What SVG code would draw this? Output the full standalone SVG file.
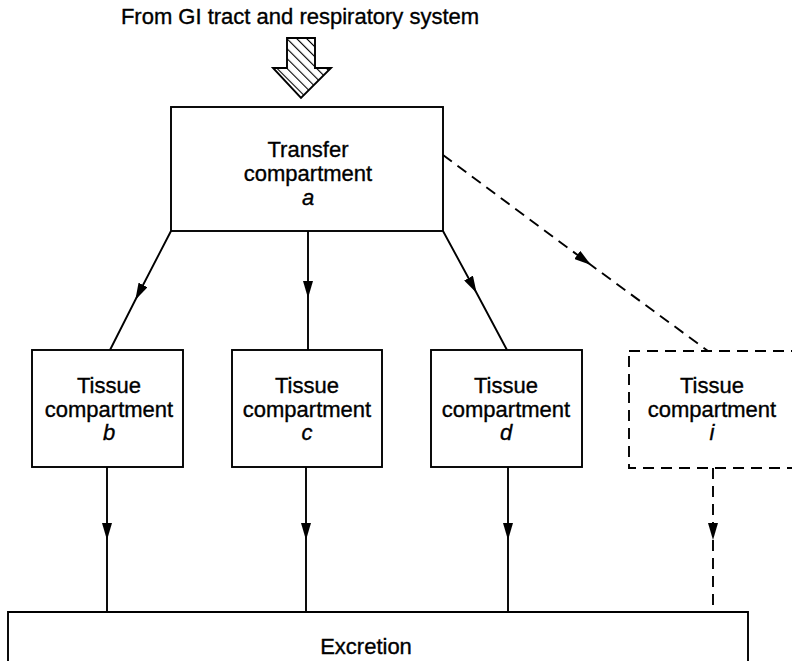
<svg xmlns="http://www.w3.org/2000/svg" width="792" height="661" viewBox="0 0 792 661">
<style>
  text { font-family: "Liberation Sans", Arial, sans-serif; font-size: 22px; fill: #000; stroke: #000; stroke-width: 0.35; text-anchor: middle; }
  .it { font-style: italic; }
  .box { fill: #fff; stroke: #000; stroke-width: 1.9; }
  .dbox { fill: none; stroke: #000; stroke-width: 1.9; stroke-dasharray: 11 7; }
  .ln { fill: none; stroke: #000; stroke-width: 1.9; marker-mid: url(#ah); }
  .dl { fill: none; stroke: #000; stroke-width: 1.9; stroke-dasharray: 11 7; marker-mid: url(#ah); }
  .plain { fill: none; stroke: #000; stroke-width: 1.9; }
</style>
<defs>
  <marker id="ah" markerUnits="userSpaceOnUse" markerWidth="17" markerHeight="10" refX="17" refY="5" orient="auto">
    <path d="M0,0 L17,5 L0,10 z" fill="#000"/>
  </marker>
  <pattern id="hatch" patternUnits="userSpaceOnUse" width="7" height="7" patternTransform="rotate(-45)">
    <rect width="7" height="7" fill="#fff"/>
    <line x1="0" y1="0" x2="0" y2="7" stroke="#000" stroke-width="2.2"/>
  </pattern>
</defs>

<g id="source">
  <text x="300" y="24">From GI tract and respiratory system</text>
  <polygon points="287,38 315,38 315,68 331,68 301,98 273,68 287,68" fill="url(#hatch)" stroke="#000" stroke-width="1.9" stroke-linejoin="miter"/>
</g>

<g id="connectors">
  <path class="ln" d="M171,231 L135.3,300 L110,350"/>
  <path class="ln" d="M308,231 L308,298 L308,350"/>
  <path class="ln" d="M443,231 L476.6,293 L507,350"/>
  <path class="dl" d="M443,155 L591,265 L708,351"/>
  <path class="ln" d="M107,467 L107,540 L107,612"/>
  <path class="ln" d="M306,467 L306,540 L306,612"/>
  <path class="ln" d="M508,467 L508,540 L508,612"/>
  <path class="dl" d="M713,468 L713,540 L713,612"/>
</g>

<g id="node-a">
  <rect class="box" x="171" y="107" width="272" height="124"/>
  <text x="308" y="157">Transfer</text>
  <text x="308" y="181">compartment</text>
  <text class="it" x="308" y="205">a</text>
</g>

<g id="node-b">
  <rect class="box" x="32" y="350" width="151" height="117"/>
  <text x="109" y="393">Tissue</text>
  <text x="109" y="417">compartment</text>
  <text class="it" x="109" y="440">b</text>
</g>

<g id="node-c">
  <rect class="box" x="232" y="350" width="150" height="117"/>
  <text x="307" y="393">Tissue</text>
  <text x="307" y="417">compartment</text>
  <text class="it" x="307" y="440">c</text>
</g>

<g id="node-d">
  <rect class="box" x="431" y="350" width="151" height="117"/>
  <text x="506" y="393">Tissue</text>
  <text x="506" y="417">compartment</text>
  <text class="it" x="506" y="440">d</text>
</g>

<g id="node-i">
  <rect class="dbox" x="629" y="351" width="170" height="117"/>
  <text x="712" y="393">Tissue</text>
  <text x="712" y="417">compartment</text>
  <text class="it" x="712" y="440">i</text>
</g>

<g id="excretion">
  <path class="plain" d="M8,661 L8,612 L748,612 L748,661"/>
  <text x="366" y="654">Excretion</text>
</g>
</svg>
